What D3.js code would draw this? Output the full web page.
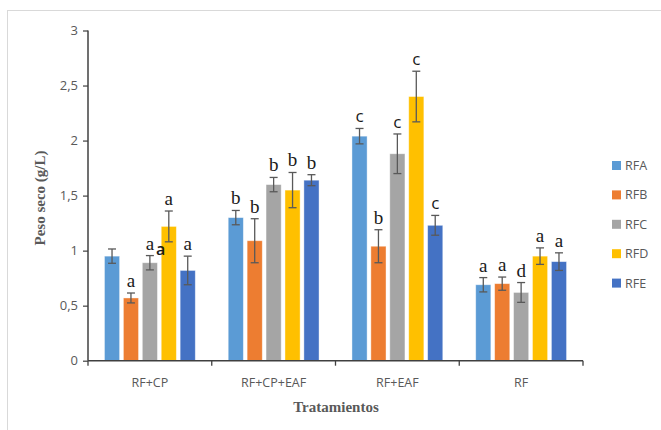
<!DOCTYPE html>
<html>
<head>
<meta charset="utf-8">
<script src="https://cdn.jsdelivr.net/npm/d3@7/dist/d3.min.js"></script>
<style>
  body { margin: 0; background: #fff; }
  svg { display: block; }
</style>
</head>
<body>
<svg id="chart" width="661" height="430"></svg>
<script>
// ---- data ----
const categories = ["RF+CP", "RF+CP+EAF", "RF+EAF", "RF"];
const series = ["RFA", "RFB", "RFC", "RFD", "RFE"];
const colors = ["#5B9BD5", "#ED7D31", "#A5A5A5", "#FFC000", "#4472C4"];
// values[series][category]
const valRFA = [0.95, 1.30, 2.04, 0.69];
const valRFB = [0.57, 1.09, 1.04, 0.70];
const valRFC = [0.89, 1.60, 1.88, 0.62];
const valRFD = [1.22, 1.55, 2.40, 0.95];
const valRFE = [0.82, 1.64, 1.23, 0.90];
const errRFA = [0.065, 0.065, 0.07, 0.065];
const errRFB = [0.045, 0.20, 0.15, 0.06];
const errRFC = [0.065, 0.065, 0.18, 0.09];
const errRFD = [0.14, 0.16, 0.23, 0.075];
const errRFE = [0.13, 0.05, 0.09, 0.08];
const letRFA = ["", "b", "c", "a"];
const letRFB = ["a", "b", "b", "a"];
const letRFC = ["a", "b", "c", "d"];
const letRFD = ["a", "b", "c", "a"];
const letRFE = ["a", "b", "c", "a"];
const yTicks = [0, 0.5, 1, 1.5, 2, 2.5, 3];

const values = [valRFA, valRFB, valRFC, valRFD, valRFE];
const errors = [errRFA, errRFB, errRFC, errRFD, errRFE];
const letters = [letRFA, letRFB, letRFC, letRFD, letRFE];

const svg = d3.select("#chart");

// chart area border (Excel-like frame)
svg.append("rect").attr("x", 7.5).attr("y", 10.5).attr("width", 720).attr("height", 500)
  .attr("fill", "none").attr("stroke", "#d9d9d9").attr("stroke-width", 1);

const L = 88, R = 583, T = 30.5, B = 360.7;
const y = d3.scaleLinear().domain([0, 3]).range([B, T]);
const x0 = d3.scaleBand().domain(categories).range([L, R]).paddingInner(0).paddingOuter(0);
const x1 = d3.scaleBand().domain(series).range([0, x0.bandwidth()]).paddingInner(0.2).paddingOuter(0.87);

const data = [];
categories.forEach((c, ci) => {
  series.forEach((s, si) => {
    data.push({ c, s, si, v: values[si][ci], e: errors[si][ci], l: letters[si][ci] });
  });
});

// bars
svg.append("g").selectAll("rect").data(data).join("rect")
  .attr("x", d => x0(d.c) + x1(d.s))
  .attr("y", d => y(d.v))
  .attr("width", x1.bandwidth())
  .attr("height", d => y(0) - y(d.v))
  .attr("fill", d => colors[d.si])
  .attr("stroke", "rgba(255,255,255,0.5)").attr("stroke-width", 0.8);

// error bars
const eg = svg.append("g").attr("stroke", "#595959").attr("stroke-width", 1.3);
data.forEach(d => {
  const cx = x0(d.c) + x1(d.s) + x1.bandwidth() / 2;
  eg.append("line").attr("x1", cx).attr("x2", cx).attr("y1", y(d.v + d.e)).attr("y2", y(d.v - d.e));
  eg.append("line").attr("x1", cx - 4).attr("x2", cx + 4).attr("y1", y(d.v + d.e)).attr("y2", y(d.v + d.e));
  eg.append("line").attr("x1", cx - 4).attr("x2", cx + 4).attr("y1", y(d.v - d.e)).attr("y2", y(d.v - d.e));
});

// significance letters
svg.append("g").selectAll("text").data(data.filter(d => d.l)).join("text")
  .attr("x", d => x0(d.c) + x1(d.s) + x1.bandwidth() / 2)
  .attr("y", d => y(d.v + d.e) - 6)
  .attr("text-anchor", "middle")
  .attr("font-family", d => d.l === "c" ? "'Open Sans', sans-serif" : "'Liberation Serif', 'Times New Roman', serif")
  .attr("font-size", d => d.l === "c" ? 17 : 19)
  .attr("fill", "#1a1a1a")
  .text(d => d.l);

// stray "a" label of RFA in RF+CP (drawn shifted, as in the original)
svg.append("text")
  .attr("x", x0("RF+CP") + x1("RFD") - 0.5)
  .attr("y", y(valRFA[0]) - 1)
  .attr("text-anchor", "middle")
  .attr("font-family", "'Open Sans', sans-serif").attr("font-weight", 600)
  .attr("font-size", 16).attr("fill", "#1a1a1a").text("a");

// y axis
const yAxis = svg.append("g").attr("transform", `translate(${L},0)`)
  .call(d3.axisLeft(y).tickValues(yTicks).tickSize(5).tickFormat(d => String(d).replace(".", ",")));
yAxis.select(".domain").attr("stroke", "#404040").attr("stroke-width", 1.5).attr("d", `M0,${B}V${T}`);
yAxis.selectAll(".tick line").attr("stroke", "#404040").attr("stroke-width", 1.2);
yAxis.selectAll(".tick text").attr("fill", "#595959").attr("font-size", 13)
  .attr("font-family", "'Open Sans', 'Liberation Sans', sans-serif").attr("dx", -2);

// x axis
const xg = svg.append("g").attr("transform", `translate(0,${B})`);
xg.append("line").attr("x1", L).attr("x2", R).attr("y1", 0).attr("y2", 0)
  .attr("stroke", "#404040").attr("stroke-width", 1.6);
const bounds = categories.map(c => x0(c)).concat([R]);
xg.selectAll("line.tk").data(bounds).join("line").attr("class", "tk")
  .attr("x1", d => d).attr("x2", d => d).attr("y1", 0).attr("y2", 5)
  .attr("stroke", "#404040").attr("stroke-width", 1.3);
xg.selectAll("text").data(categories).join("text")
  .attr("x", d => x0(d) + x0.bandwidth() / 2)
  .attr("y", 26)
  .attr("text-anchor", "middle")
  .attr("fill", "#595959").attr("font-size", 12.5)
  .attr("font-family", "'Open Sans', 'Liberation Sans', sans-serif")
  .text(d => d);

// axis titles
svg.append("text").attr("x", 336).attr("y", 412).attr("text-anchor", "middle")
  .attr("font-family", "'Liberation Serif', 'Times New Roman', serif").attr("font-weight", "bold")
  .attr("font-size", 15).attr("fill", "#595959").text("Tratamientos");
svg.append("text").attr("transform", "translate(45,198) rotate(-90)").attr("text-anchor", "middle")
  .attr("font-family", "'Liberation Serif', 'Times New Roman', serif").attr("font-weight", "bold")
  .attr("font-size", 15).attr("fill", "#595959").text("Peso seco (g/L)");

// legend
const lg = svg.append("g");
series.forEach((s, i) => {
  const cy = 165.5 + i * 29.4;
  lg.append("rect").attr("x", 612).attr("y", cy - 4.5).attr("width", 9).attr("height", 9).attr("fill", colors[i]);
  lg.append("text").attr("x", 625).attr("y", cy + 4.5).attr("fill", "#595959")
    .attr("font-size", 12.5).attr("font-family", "'Open Sans', 'Liberation Sans', sans-serif").text(s);
});
</script>
</body>
</html>
